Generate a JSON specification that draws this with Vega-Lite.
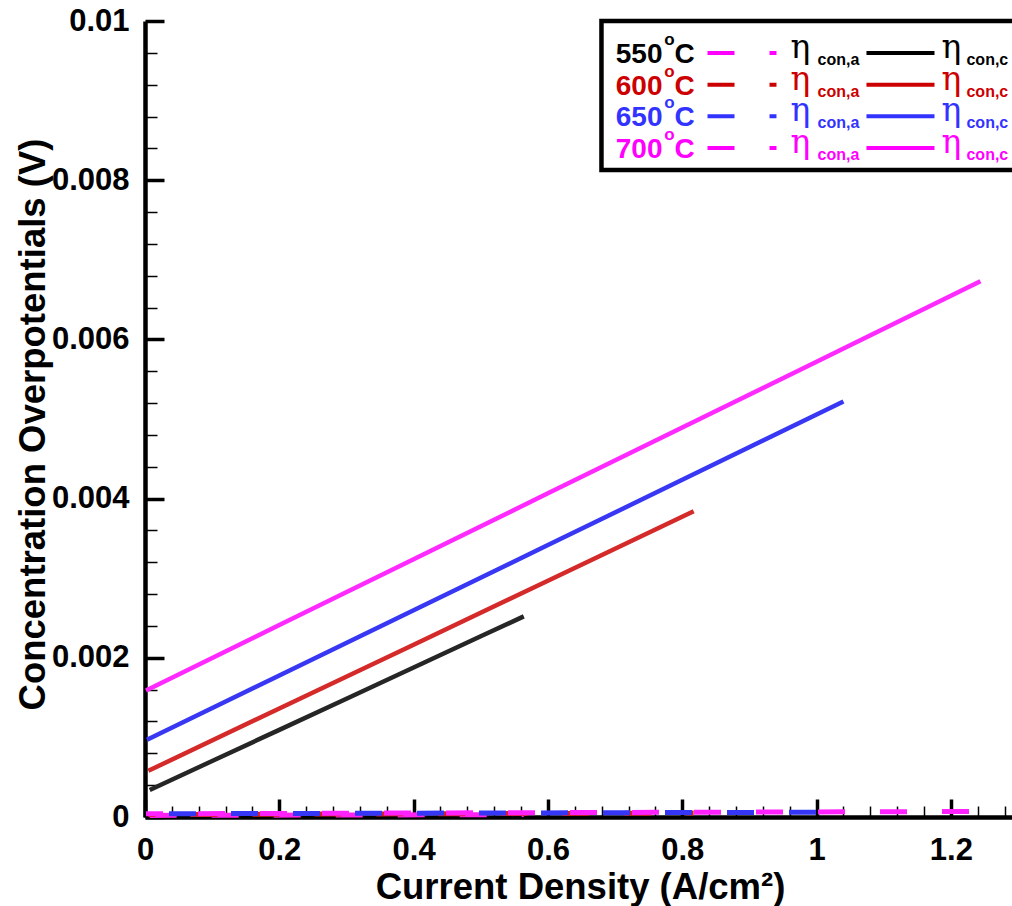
{
  "$schema": "https://vega.github.io/schema/vega-lite/v6.json",
  "width": 867,
  "height": 796,
  "autosize": {"type": "none"},
  "padding": {"left": 145, "top": 21, "right": 0, "bottom": 89},
  "background": "white",
  "config": {"view": {"stroke": null}, "font": "Liberation Sans"},
  "datasets": {
    "curves": [
      {"curve": "550 c", "electrode": "c", "j": 0.007, "eta": 0.00034},
      {"curve": "550 c", "electrode": "c", "j": 0.1, "eta": 0.000703},
      {"curve": "550 c", "electrode": "c", "j": 0.2, "eta": 0.001095},
      {"curve": "550 c", "electrode": "c", "j": 0.3, "eta": 0.001486},
      {"curve": "550 c", "electrode": "c", "j": 0.4, "eta": 0.001878},
      {"curve": "550 c", "electrode": "c", "j": 0.5, "eta": 0.00227},
      {"curve": "550 c", "electrode": "c", "j": 0.564, "eta": 0.00252},
      {"curve": "600 c", "electrode": "c", "j": 0.005, "eta": 0.00058},
      {"curve": "600 c", "electrode": "c", "j": 0.2, "eta": 0.001363},
      {"curve": "600 c", "electrode": "c", "j": 0.4, "eta": 0.002165},
      {"curve": "600 c", "electrode": "c", "j": 0.6, "eta": 0.002968},
      {"curve": "600 c", "electrode": "c", "j": 0.817, "eta": 0.00384},
      {"curve": "650 c", "electrode": "c", "j": 0.003, "eta": 0.00097},
      {"curve": "650 c", "electrode": "c", "j": 0.2, "eta": 0.001777},
      {"curve": "650 c", "electrode": "c", "j": 0.4, "eta": 0.002597},
      {"curve": "650 c", "electrode": "c", "j": 0.6, "eta": 0.003416},
      {"curve": "650 c", "electrode": "c", "j": 0.8, "eta": 0.004236},
      {"curve": "650 c", "electrode": "c", "j": 1.04, "eta": 0.00522},
      {"curve": "700 c", "electrode": "c", "j": 0.0015, "eta": 0.00159},
      {"curve": "700 c", "electrode": "c", "j": 0.2, "eta": 0.002411},
      {"curve": "700 c", "electrode": "c", "j": 0.4, "eta": 0.003238},
      {"curve": "700 c", "electrode": "c", "j": 0.6, "eta": 0.004066},
      {"curve": "700 c", "electrode": "c", "j": 0.8, "eta": 0.004893},
      {"curve": "700 c", "electrode": "c", "j": 1.0, "eta": 0.00572},
      {"curve": "700 c", "electrode": "c", "j": 1.244, "eta": 0.00673},
      {"curve": "550 a", "electrode": "a", "j": 0.007, "eta": 0.00002},
      {"curve": "550 a", "electrode": "a", "j": 0.3, "eta": 0.000025},
      {"curve": "550 a", "electrode": "a", "j": 0.564, "eta": 0.00003},
      {"curve": "600 a", "electrode": "a", "j": 0.005, "eta": 0.00003},
      {"curve": "600 a", "electrode": "a", "j": 0.4, "eta": 0.00004},
      {"curve": "600 a", "electrode": "a", "j": 0.817, "eta": 0.00005},
      {"curve": "650 a", "electrode": "a", "j": 0.003, "eta": 0.00004},
      {"curve": "650 a", "electrode": "a", "j": 0.5, "eta": 0.00005},
      {"curve": "650 a", "electrode": "a", "j": 1.04, "eta": 0.00006},
      {"curve": "700 a", "electrode": "a", "j": 0.0015, "eta": 0.00004},
      {"curve": "700 a", "electrode": "a", "j": 0.6, "eta": 0.000055},
      {"curve": "700 a", "electrode": "a", "j": 1.244, "eta": 0.00007}
    ],
    "legend": [
      {"temp": "550", "anode": "550 a", "cathode": "550 c"},
      {"temp": "600", "anode": "600 a", "cathode": "600 c"},
      {"temp": "650", "anode": "650 a", "cathode": "650 c"},
      {"temp": "700", "anode": "700 a", "cathode": "700 c"}
    ]
  },
  "resolve": {"scale": {"x": "independent", "y": "independent"}},
  "layer": [
    {
      "data": {"name": "curves"},
      "layer": [
        {
          "data": {"values": [{}]},
          "mark": {"type": "rect", "fill": "white", "stroke": "black", "strokeWidth": 4.5},
          "encoding": {
            "x": {"datum": 0.6797, "scale": {"domain": [0, 1.291], "nice": false, "zero": false}, "axis": null},
            "x2": {"datum": 1.45},
            "y": {"datum": 0.008128, "scale": {"domain": [0, 0.01], "nice": false}, "axis": null},
            "y2": {"datum": 0.01}
          }
        },
        {
          "transform": [{"filter": "datum.curve === '550 a'"}],
          "mark": {"type": "line", "strokeWidth": 5, "strokeDash": [27, 35], "strokeDashOffset": 0},
          "encoding": {
            "x": {"field": "j", "type": "quantitative", "scale": {"domain": [0, 1.291], "nice": false, "zero": false}, "axis": null},
            "y": {"field": "eta", "type": "quantitative", "scale": {"domain": [0, 0.01], "nice": false}, "axis": null},
            "color": {"field": "curve", "type": "nominal", "scale": {"domain": ["550 a", "550 c", "600 a", "600 c", "650 a", "650 c", "700 a", "700 c"], "range": ["#ff22ee", "#262626", "#d42020", "#d42a2a", "#3636f6", "#3838f4", "#ff22ff", "#ff2aff"]}, "legend": null}
          }
        },
        {
          "transform": [{"filter": "datum.curve === '600 a'"}],
          "mark": {"type": "line", "strokeWidth": 5, "strokeDash": [27, 35], "strokeDashOffset": 20},
          "encoding": {
            "x": {"field": "j", "type": "quantitative", "scale": {"domain": [0, 1.291], "nice": false, "zero": false}, "axis": null},
            "y": {"field": "eta", "type": "quantitative", "scale": {"domain": [0, 0.01], "nice": false}, "axis": null},
            "color": {"field": "curve", "type": "nominal", "scale": {"domain": ["550 a", "550 c", "600 a", "600 c", "650 a", "650 c", "700 a", "700 c"], "range": ["#ff22ee", "#262626", "#d42020", "#d42a2a", "#3636f6", "#3838f4", "#ff22ff", "#ff2aff"]}, "legend": null}
          }
        },
        {
          "transform": [{"filter": "datum.curve === '650 a'"}],
          "mark": {"type": "line", "strokeWidth": 5, "strokeDash": [27, 35], "strokeDashOffset": 40},
          "encoding": {
            "x": {"field": "j", "type": "quantitative", "scale": {"domain": [0, 1.291], "nice": false, "zero": false}, "axis": null},
            "y": {"field": "eta", "type": "quantitative", "scale": {"domain": [0, 0.01], "nice": false}, "axis": null},
            "color": {"field": "curve", "type": "nominal", "scale": {"domain": ["550 a", "550 c", "600 a", "600 c", "650 a", "650 c", "700 a", "700 c"], "range": ["#ff22ee", "#262626", "#d42020", "#d42a2a", "#3636f6", "#3838f4", "#ff22ff", "#ff2aff"]}, "legend": null}
          }
        },
        {
          "transform": [{"filter": "datum.curve === '700 a'"}],
          "mark": {"type": "line", "strokeWidth": 5, "strokeDash": [27, 35], "strokeDashOffset": 10},
          "encoding": {
            "x": {"field": "j", "type": "quantitative", "scale": {"domain": [0, 1.291], "nice": false, "zero": false}, "axis": null},
            "y": {"field": "eta", "type": "quantitative", "scale": {"domain": [0, 0.01], "nice": false}, "axis": null},
            "color": {"field": "curve", "type": "nominal", "scale": {"domain": ["550 a", "550 c", "600 a", "600 c", "650 a", "650 c", "700 a", "700 c"], "range": ["#ff22ee", "#262626", "#d42020", "#d42a2a", "#3636f6", "#3838f4", "#ff22ff", "#ff2aff"]}, "legend": null}
          }
        }
      ]
    },
    {
      "data": {"name": "curves"},
      "transform": [{"filter": "datum.electrode === 'c'"}],
      "mark": {"type": "line", "strokeWidth": 4.5, "strokeCap": "butt"},
      "encoding": {
        "x": {
          "field": "j", "type": "quantitative",
          "scale": {"domain": [0, 1.291], "nice": false, "zero": false},
          "axis": {
            "orient": "bottom",
            "title": "Current Density (A/cm²)",
            "values": [0, 0.2, 0.4, 0.6, 0.8, 1, 1.2],
            "format": "~g",
            "grid": false,
            "tickSize": -18, "tickWidth": 3.5, "tickColor": "black",
            "domainWidth": 4.5, "domainColor": "black",
            "labelFont": "Liberation Sans", "labelFontSize": 31, "labelFontWeight": "bold", "labelColor": "black",
            "labelPadding": 36, "labelFlush": false, "labelOverlap": false,
            "titleFont": "Liberation Sans", "titleFontSize": 36.5, "titleFontWeight": "bold", "titleColor": "black",
            "titleX": 435, "titleY": 81, "titleBaseline": "alphabetic", "titleAlign": "center"
          }
        },
        "y": {
          "field": "eta", "type": "quantitative",
          "scale": {"domain": [0, 0.01], "nice": false},
          "axis": {
            "orient": "left",
            "title": "Concentration Overpotentials (V)",
            "values": [0, 0.002, 0.004, 0.006, 0.008, 0.01],
            "format": "~g",
            "grid": false,
            "tickSize": -19, "tickWidth": 3.5, "tickColor": "black",
            "domainWidth": 4.5, "domainColor": "black",
            "labelFont": "Liberation Sans", "labelFontSize": 31, "labelFontWeight": "bold", "labelColor": "black",
            "labelPadding": 35, "labelFlush": false, "labelOverlap": false,
            "titleFont": "Liberation Sans", "titleFontSize": 36.5, "titleFontWeight": "bold", "titleColor": "black",
            "titleAngle": 270, "titleX": -101, "titleY": 403, "titleBaseline": "alphabetic", "titleAlign": "center"
          }
        },
        "color": {"field": "curve", "type": "nominal", "scale": {"domain": ["550 a", "550 c", "600 a", "600 c", "650 a", "650 c", "700 a", "700 c"], "range": ["#ff22ee", "#262626", "#d42020", "#d42a2a", "#3636f6", "#3838f4", "#ff22ff", "#ff2aff"]}, "legend": null}
      }
    },
    {
      "data": {"name": "curves"},
      "mark": {"type": "point", "opacity": 0},
      "encoding": {
        "x": {
          "field": "j", "type": "quantitative",
          "scale": {"domain": [0, 1.291], "nice": false, "zero": false},
          "axis": {
            "orient": "bottom", "title": null, "labels": false, "domain": false, "grid": false,
            "values": [0.04, 0.08, 0.12, 0.16, 0.24, 0.28, 0.32, 0.36, 0.44, 0.48, 0.52, 0.56, 0.64, 0.68, 0.72, 0.76, 0.84, 0.88, 0.92, 0.96, 1.04, 1.08, 1.12, 1.16, 1.24, 1.28],
            "tickSize": -11, "tickWidth": 1.5, "tickColor": "black"
          }
        },
        "y": {
          "field": "eta", "type": "quantitative",
          "scale": {"domain": [0, 0.01], "nice": false},
          "axis": {
            "orient": "left", "title": null, "labels": false, "domain": false, "grid": false,
            "values": [0.0004, 0.0008, 0.0012, 0.0016, 0.0024, 0.0028, 0.0032, 0.0036, 0.0044, 0.0048, 0.0052, 0.0056, 0.0064, 0.0068, 0.0072, 0.0076, 0.0084, 0.0088, 0.0092, 0.0096],
            "tickSize": -12, "tickWidth": 1.5, "tickColor": "black"
          }
        }
      }
    },
    {
      "data": {"name": "legend"},
      "encoding": {
        "y": {"field": "temp", "type": "ordinal", "scale": {"type": "point", "domain": ["550", "600", "650", "700"], "range": [32, 127], "padding": 0}, "axis": null}
      },
      "layer": [
        {
          "mark": {"type": "text", "align": "right", "baseline": "alphabetic", "dy": 10, "fontSize": 28, "fontWeight": "bold", "font": "Liberation Sans"},
          "encoding": {
            "x": {"datum": 0.7706, "scale": {"domain": [0, 1.291], "nice": false, "zero": false},
                  "axis": {"orient": "top", "title": null, "labels": false, "ticks": false, "grid": false, "domain": true, "domainWidth": 4.5, "domainColor": "black"}},
            "text": {"field": "temp"},
            "fill": {"field": "cathode", "type": "nominal", "scale": {"domain": ["550 a", "550 c", "600 a", "600 c", "650 a", "650 c", "700 a", "700 c"], "range": ["#ff00ff", "#000000", "#cc0000", "#cc0000", "#3333ff", "#3333ff", "#ff00ff", "#ff00ff"]}, "legend": null}
          }
        },
        {
          "mark": {"type": "text", "align": "center", "baseline": "alphabetic", "dy": -8, "fontSize": 17, "fontWeight": "bold", "font": "Liberation Sans"},
          "encoding": {
            "x": {"datum": 0.781, "scale": {"domain": [0, 1.291], "nice": false, "zero": false}, "axis": null},
            "text": {"value": "o"},
            "fill": {"field": "cathode", "type": "nominal", "legend": null}
          }
        },
        {
          "mark": {"type": "text", "align": "left", "baseline": "alphabetic", "dy": 10, "fontSize": 28, "fontWeight": "bold", "font": "Liberation Sans"},
          "encoding": {
            "x": {"datum": 0.7884, "scale": {"domain": [0, 1.291], "nice": false, "zero": false}, "axis": null},
            "text": {"value": "C"},
            "fill": {"field": "cathode", "type": "nominal", "legend": null}
          }
        },
        {
          "mark": {"type": "rule", "strokeWidth": 4, "strokeDash": [27, 35]},
          "encoding": {
            "x": {"datum": 0.8376, "scale": {"domain": [0, 1.291], "nice": false, "zero": false}, "axis": null},
            "x2": {"datum": 0.9403},
            "stroke": {"field": "anode", "type": "nominal", "scale": {"domain": ["550 a", "550 c", "600 a", "600 c", "650 a", "650 c", "700 a", "700 c"], "range": ["#ff00ff", "#000000", "#cc0000", "#cc0000", "#3333ff", "#3333ff", "#ff00ff", "#ff00ff"]}, "legend": null}
          }
        },
        {
          "mark": {"type": "text", "align": "left", "baseline": "alphabetic", "dy": 5, "fontSize": 33, "font": "DejaVu Serif"},
          "encoding": {
            "x": {"datum": 0.9611, "scale": {"domain": [0, 1.291], "nice": false, "zero": false}, "axis": null},
            "text": {"value": "η"},
            "fill": {"field": "cathode", "type": "nominal", "legend": null}
          }
        },
        {
          "mark": {"type": "text", "align": "left", "baseline": "alphabetic", "dy": 12, "fontSize": 16, "fontWeight": "bold", "font": "Liberation Sans"},
          "encoding": {
            "x": {"datum": 1.0014, "scale": {"domain": [0, 1.291], "nice": false, "zero": false}, "axis": null},
            "text": {"value": "con,a"},
            "fill": {"field": "cathode", "type": "nominal", "legend": null}
          }
        },
        {
          "mark": {"type": "rule", "strokeWidth": 4},
          "encoding": {
            "x": {"datum": 1.0743, "scale": {"domain": [0, 1.291], "nice": false, "zero": false}, "axis": null},
            "x2": {"datum": 1.1756},
            "stroke": {"field": "cathode", "type": "nominal", "legend": null}
          }
        },
        {
          "mark": {"type": "text", "align": "left", "baseline": "alphabetic", "dy": 5, "fontSize": 33, "font": "DejaVu Serif"},
          "encoding": {
            "x": {"datum": 1.186, "scale": {"domain": [0, 1.291], "nice": false, "zero": false}, "axis": null},
            "text": {"value": "η"},
            "fill": {"field": "cathode", "type": "nominal", "legend": null}
          }
        },
        {
          "mark": {"type": "text", "align": "left", "baseline": "alphabetic", "dy": 12, "fontSize": 16, "fontWeight": "bold", "font": "Liberation Sans"},
          "encoding": {
            "x": {"datum": 1.2232, "scale": {"domain": [0, 1.291], "nice": false, "zero": false}, "axis": null},
            "text": {"value": "con,c"},
            "fill": {"field": "cathode", "type": "nominal", "legend": null}
          }
        }
      ]
    }
  ]
}
